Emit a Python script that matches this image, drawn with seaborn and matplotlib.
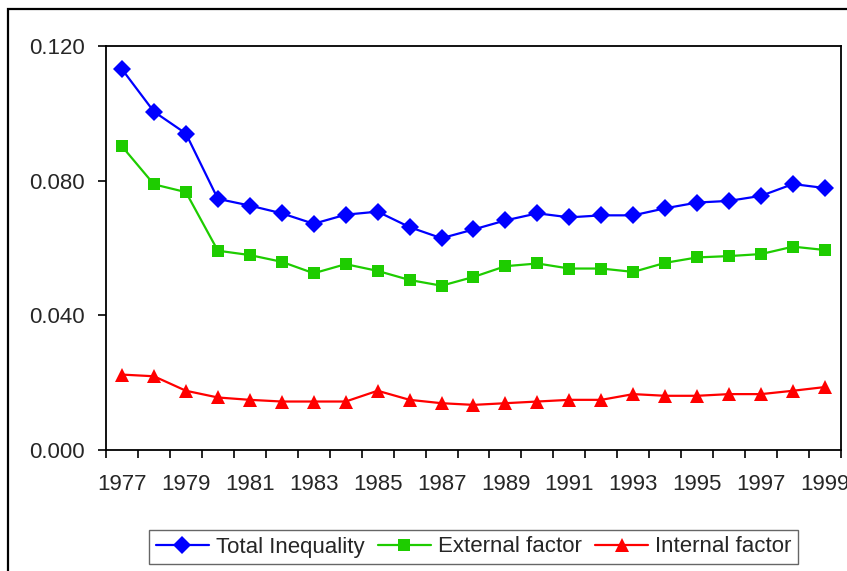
import matplotlib
matplotlib.use("Agg")
import matplotlib.pyplot as plt
import matplotlib.ticker as mticker
from matplotlib.patches import Rectangle
import seaborn as sns
import pandas as pd

years = list(range(1977, 2000))
total_inequality = [0.1131, 0.1005, 0.0940, 0.0746, 0.0726, 0.0703, 0.0672, 0.0699, 0.0708,
                    0.0662, 0.0629, 0.0655, 0.0682, 0.0703, 0.0691, 0.0697, 0.0697, 0.0718,
                    0.0735, 0.0740, 0.0755, 0.0790, 0.0778]
external_factor = [0.0902, 0.0789, 0.0766, 0.0592, 0.0579, 0.0559, 0.0525, 0.0552, 0.0532,
                   0.0505, 0.0488, 0.0514, 0.0546, 0.0554, 0.0539, 0.0539, 0.0529, 0.0556,
                   0.0572, 0.0576, 0.0582, 0.0604, 0.0594]
internal_factor = [0.0224, 0.0219, 0.0176, 0.0156, 0.0149, 0.0144, 0.0144, 0.0144, 0.0176,
                   0.0149, 0.0139, 0.0134, 0.0139, 0.0144, 0.0149, 0.0149, 0.0166, 0.0161,
                   0.0161, 0.0166, 0.0166, 0.0176, 0.0187]
series_names = ["Total Inequality", "External factor", "Internal factor"]
y_ticks = [0.0, 0.04, 0.08, 0.12]
x_label_years = list(range(1977, 2000, 2))

sns.set_theme(style="white")
plt.rcParams['font.family'] = ['Liberation Sans', 'DejaVu Sans']

df = pd.DataFrame({
    "year": years * 3,
    "value": total_inequality + external_factor + internal_factor,
    "series": [series_names[0]] * len(years) + [series_names[1]] * len(years) + [series_names[2]] * len(years),
})

colors = {series_names[0]: "#0000ff", series_names[1]: "#1ecc00", series_names[2]: "#ff0000"}
markers = {series_names[0]: "D", series_names[1]: "s", series_names[2]: "^"}
msizes = {series_names[0]: 9.5, series_names[1]: 9, series_names[2]: 9.5}

fig = plt.figure(figsize=(8.47, 5.71), dpi=100)
ax = fig.add_axes([106 / 847, (571 - 450) / 571, 735 / 847, 404 / 571])

for name in series_names:
    sub = df[df["series"] == name]
    sns.lineplot(data=sub, x="year", y="value", ax=ax, color=colors[name],
                 marker=markers[name], markersize=msizes[name], markeredgewidth=0,
                 linewidth=1.6, label=name, legend=False)

ax.set_xlim(1976.5, 1999.5)
ax.set_ylim(0, 0.12)
ax.set_xlabel("")
ax.set_ylabel("")
ax.set_xticks(x_label_years)
ax.set_xticklabels([str(y) for y in x_label_years])
ax.set_xticks([y - 0.5 for y in years] + [years[-1] + 0.5], minor=True)
ax.tick_params(axis="x", which="major", length=0, pad=17, labelsize=16)
ax.tick_params(axis="x", which="minor", length=6, width=1.2, color="black", direction="out", bottom=True)
ax.set_yticks(y_ticks)
ax.yaxis.set_major_formatter(mticker.FormatStrFormatter("%.3f"))
ax.tick_params(axis="y", which="major", length=6, width=1.2, color="black", direction="out",
               left=True, pad=9, labelsize=16)
for sp in ax.spines.values():
    sp.set_color("black")
    sp.set_linewidth(1.3)
ax.grid(False)

handles, labels = ax.get_legend_handles_labels()
leg = fig.legend(handles, labels, loc="center", ncol=3,
                 bbox_to_anchor=((148 + 799) / 2 / 847, 1 - 547 / 571),
                 fontsize=16, frameon=True, fancybox=False, edgecolor="#404040",
                 handlelength=2.4, handletextpad=0.3, columnspacing=0.6,
                 borderpad=0.3, borderaxespad=0)
leg.get_frame().set_linewidth(1.0)

fig.patches.append(Rectangle((8 / 847, -0.1), 1.2, 1 - 9 / 571 + 0.1, transform=fig.transFigure,
                             fill=False, edgecolor="black", linewidth=1.6))

fig.savefig("out.png", dpi=100)
